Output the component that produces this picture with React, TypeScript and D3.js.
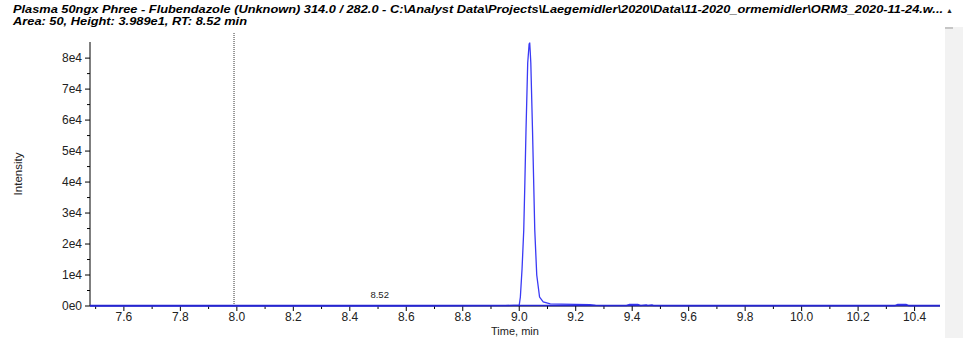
import React, { useEffect, useRef } from 'react';
import * as d3 from 'd3';

// chromatogram trace (time in min, intensity in cps)
const times = [
  7.48, 7.6, 7.8, 8.0, 8.2, 8.4, 8.6, 8.8, 8.95, 9.0, 9.004, 9.01, 9.016, 9.02, 9.024,
  9.03, 9.035, 9.037, 9.039, 9.041, 9.047, 9.055, 9.062, 9.072, 9.085, 9.11, 9.15,
  9.2, 9.25, 9.27, 9.3, 9.38, 9.39, 9.42, 9.43, 9.45, 9.455, 9.47, 9.475, 9.6, 9.8,
  10.0, 10.2, 10.33, 10.34, 10.37, 10.38, 10.49,
];
const intensities = [
  0, 0, 0, 0, 0, 0, 0, 50, 100, 300, 2900, 12000, 24500, 40000, 56800,
  78400, 84500, 85000, 82000, 78400, 56800, 24500, 10000, 2900, 1300, 700, 600,
  550, 450, 200, 100, 100, 500, 500, 100, 350, 100, 350, 100, 80, 60,
  60, 60, 80, 500, 500, 80, 60,
];
const xTicks = [7.6, 7.8, 8.0, 8.2, 8.4, 8.6, 8.8, 9.0, 9.2, 9.4, 9.6, 9.8, 10.0, 10.2, 10.4];
const yTicks = [0, 10000, 20000, 30000, 40000, 50000, 60000, 70000, 80000];
const rtMarker = 7.99;
const peakLabel = '8.52';
const titleLine1 =
  'Plasma 50ngx Phree - Flubendazole (Unknown) 314.0 / 282.0 - C:\\Analyst Data\\Projects\\Laegemidler\\2020\\Data\\11-2020_ormemidler\\ORM3_2020-11-24.w...';
const titleLine2 = 'Area: 50, Height: 3.989e1, RT: 8.52 min';

const App: React.FC = () => {
  const svgRef = useRef<SVGSVGElement | null>(null);

  useEffect(() => {
    const width = 963;
    const height = 338;
    const margin = { top: 42, right: 23, bottom: 32, left: 90 };

    const svg = d3.select(svgRef.current);
    svg.selectAll('*').remove();
    svg.attr('width', width).attr('height', height);

    const x = d3.scaleLinear().domain([7.48, 10.49]).range([margin.left, width - margin.right]);
    const y = d3.scaleLinear().domain([0, 85200]).range([height - margin.bottom, margin.top]);

    const font = 'Arial, "Liberation Sans", sans-serif';

    // title
    svg.append('text')
      .attr('x', 13).attr('y', 13)
      .attr('font-family', font).attr('font-size', 11.5)
      .attr('font-style', 'italic').attr('font-weight', 'bold')
      .attr('textLength', 930).attr('lengthAdjust', 'spacingAndGlyphs')
      .text(titleLine1);
    svg.append('text')
      .attr('x', 13).attr('y', 25)
      .attr('font-family', font).attr('font-size', 11.5)
      .attr('font-style', 'italic').attr('font-weight', 'bold')
      .attr('textLength', 234).attr('lengthAdjust', 'spacingAndGlyphs')
      .text(titleLine2);

    // scrollbar strip on the right
    svg.append('rect')
      .attr('x', 945).attr('y', 27).attr('width', 18).attr('height', height - 27)
      .attr('fill', '#f2f2f2');
    svg.append('line')
      .attr('x1', 945).attr('x2', 953).attr('y1', 28).attr('y2', 28)
      .attr('stroke', '#999');
    svg.append('text')
      .attr('x', 946).attr('y', 13)
      .attr('font-size', 7).attr('fill', '#222')
      .text('▲');

    // x axis
    const xAxis = svg.append('g').attr('transform', `translate(0,${height - margin.bottom})`);
    xAxis.append('line')
      .attr('x1', margin.left).attr('x2', width - margin.right)
      .attr('stroke', '#000');
    const xMinor = d3.range(7.5, 10.5, 0.2);
    xAxis.selectAll('.minor').data(xMinor).enter().append('line')
      .attr('x1', d => x(d)).attr('x2', d => x(d)).attr('y1', 0).attr('y2', 3)
      .attr('stroke', '#000');
    xAxis.selectAll('.major').data(xTicks).enter().append('line')
      .attr('x1', d => x(d)).attr('x2', d => x(d)).attr('y1', 0).attr('y2', 5)
      .attr('stroke', '#000');
    xAxis.selectAll('.lbl').data(xTicks).enter().append('text')
      .attr('x', d => x(d)).attr('y', 15)
      .attr('text-anchor', 'middle')
      .attr('font-family', font).attr('font-size', 12).attr('fill', '#222')
      .text(d => d.toFixed(1));
    svg.append('text')
      .attr('x', (margin.left + width - margin.right) / 2).attr('y', 335)
      .attr('text-anchor', 'middle')
      .attr('font-family', font).attr('font-size', 11).attr('fill', '#222')
      .text('Time, min');

    // y axis
    const yAxis = svg.append('g').attr('transform', `translate(${margin.left},0)`);
    yAxis.append('line')
      .attr('y1', margin.top).attr('y2', height - margin.bottom)
      .attr('stroke', '#000');
    const yMinor = d3.range(5000, 85000, 10000);
    yAxis.selectAll('.minor').data(yMinor).enter().append('line')
      .attr('x1', -3).attr('x2', 0).attr('y1', d => y(d)).attr('y2', d => y(d))
      .attr('stroke', '#000');
    yAxis.selectAll('.major').data(yTicks).enter().append('line')
      .attr('x1', -5).attr('x2', 0).attr('y1', d => y(d)).attr('y2', d => y(d))
      .attr('stroke', '#000');
    yAxis.selectAll('.lbl').data(yTicks).enter().append('text')
      .attr('x', -8).attr('y', d => y(d) + 4)
      .attr('text-anchor', 'end')
      .attr('font-family', font).attr('font-size', 12).attr('fill', '#222')
      .text(d => (d === 0 ? '0e0' : `${d / 10000}e4`));
    svg.append('text')
      .attr('transform', `translate(22,${(margin.top + height - margin.bottom) / 2}) rotate(-90)`)
      .attr('text-anchor', 'middle')
      .attr('font-family', font).attr('font-size', 11.5).attr('fill', '#222')
      .text('Intensity');

    // RT marker
    svg.append('line')
      .attr('x1', x(rtMarker)).attr('x2', x(rtMarker))
      .attr('y1', 33).attr('y2', height - margin.bottom)
      .attr('stroke', '#000').attr('stroke-width', 0.8)
      .attr('stroke-dasharray', '1,1');

    svg.append('text')
      .attr('x', x(+peakLabel) - 4).attr('y', 298)
      .attr('text-anchor', 'middle')
      .attr('font-family', font).attr('font-size', 9.5).attr('fill', '#222')
      .text(peakLabel);

    // trace
    const pts: [number, number][] = times.map((t, i) => [t, intensities[i]]);
    const line = d3.line<[number, number]>()
      .x(d => x(d[0]))
      .y(d => y(d[1]));
    svg.append('path')
      .datum(pts)
      .attr('d', line)
      .attr('fill', 'none')
      .attr('stroke', '#3a3af5')
      .attr('stroke-width', 1.3);
    svg.append('line')
      .attr('x1', margin.left).attr('x2', width - margin.right)
      .attr('y1', y(0) - 0.5).attr('y2', y(0) - 0.5)
      .attr('stroke', '#2525d0').attr('stroke-width', 1.5);
  }, []);

  return <svg ref={svgRef} style={{ position: 'absolute', left: 0, top: 0 }} />;
};

export default App;
